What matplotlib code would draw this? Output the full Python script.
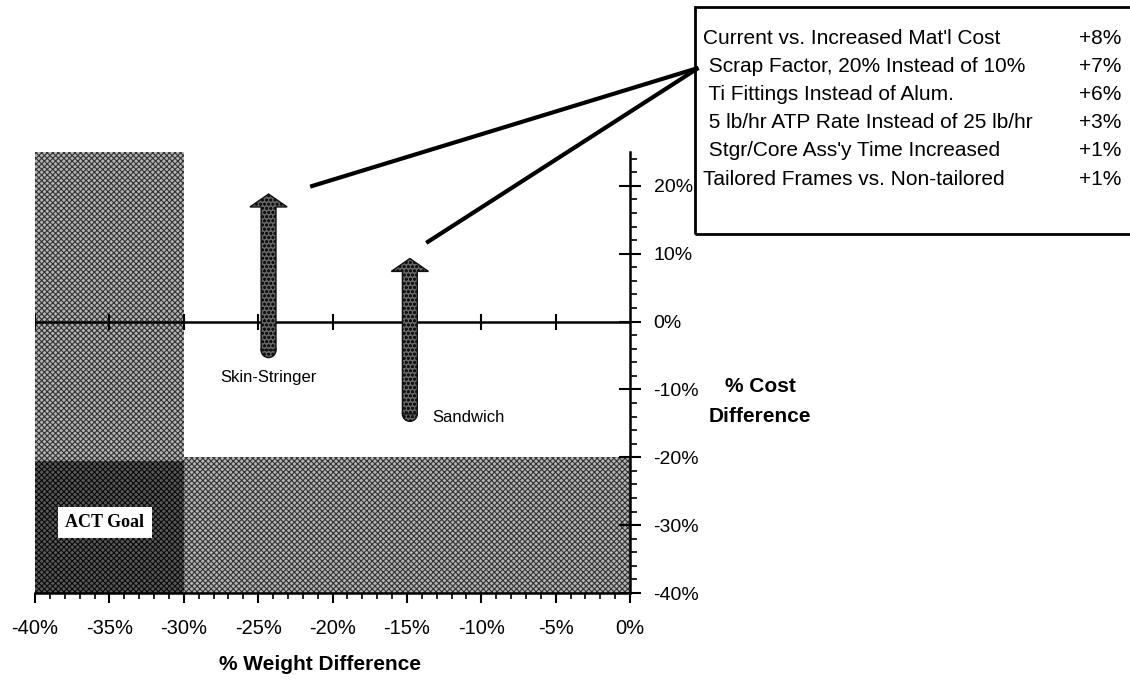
import numpy as np
import matplotlib
matplotlib.use('Agg')
import matplotlib.pyplot as plt
from matplotlib.patches import Rectangle, FancyArrow, Ellipse

plt.rcParams['font.family'] = ['Liberation Sans', 'DejaVu Sans']
plt.rcParams['hatch.linewidth'] = 0.8

# data
weight_ticks = [-40, -35, -30, -25, -20, -15, -10, -5, 0]
cost_ticks = [-40, -30, -20, -10, 0, 10, 20]
concepts = ['Skin-Stringer', 'Sandwich']
concept_weight = [-24.3, -14.8]
cost_low = [-4.9, -14.3]
cost_high = [18.8, 9.3]
goal_weight = [-40, -30]
goal_cost = [-40, -20.5]
factors = ["Current vs. Increased Mat'l Cost",
           " Scrap Factor, 20% Instead of 10%",
           " Ti Fittings Instead of Alum.",
           " 5 lb/hr ATP Rate Instead of 25 lb/hr",
           " Stgr/Core Ass'y Time Increased",
           "Tailored Frames vs. Non-tailored"]
factor_impact = ['+8%', '+7%', '+6%', '+3%', '+1%', '+1%']

W, H = 1130, 681
fig = plt.figure(figsize=(W / 100, H / 100), dpi=100)
ax = fig.add_axes([35 / W, (H - 593) / H, 595 / W, (593 - 152) / H])
ax.set_xlim(-40, 0)
ax.set_ylim(-40, 25)

light = dict(facecolor='#b5b5b5', edgecolor='#333333', hatch='xxxxxx', lw=0, zorder=0)
dark = dict(facecolor='#5a5a5a', edgecolor='#0a0a0a', hatch='xxxxxx', lw=0, zorder=1)
# weight-goal band (left) and cost-goal band (bottom)
ax.add_patch(Rectangle((-40, goal_cost[1]), 10, 25 - goal_cost[1], **light))
ax.add_patch(Rectangle((-30, -40), 30, 20, **light))
ax.add_patch(Rectangle((goal_weight[0], goal_cost[0]), goal_weight[1] - goal_weight[0],
                       goal_cost[1] - goal_cost[0], **dark))
ax.text(-35.3, -29.6, 'ACT Goal', family=['Liberation Serif'], weight='bold', fontsize=13,
        ha='center', va='center', zorder=5,
        bbox=dict(boxstyle='square,pad=0.4', fc='white', ec='none'))

# zero cost line with its ticks
ax.plot([-40, 0], [0, 0], color='black', lw=1.8, zorder=3)
ax.plot(weight_ticks[:-1], [0] * (len(weight_ticks) - 1), ls='none', marker='|',
        ms=12, mew=1.5, color='black', zorder=3)

# spines / axes
for s in ['left', 'top']:
    ax.spines[s].set_visible(False)
for s in ['bottom', 'right']:
    ax.spines[s].set_linewidth(1.8)
    ax.spines[s].set_zorder(4)
ax.yaxis.tick_right()
ax.set_xticks(weight_ticks)
ax.set_xticklabels([f'{t}%' for t in weight_ticks])
ax.set_xticks(np.arange(-40, 1, 1), minor=True)
ax.set_yticks(cost_ticks)
ax.set_yticklabels([f'{t}%' for t in cost_ticks])
ax.set_yticks(np.arange(-40, 25, 2), minor=True)
ax.tick_params(axis='x', which='major', direction='out', length=7, width=1.5, pad=12, labelsize=14.5)
ax.tick_params(axis='x', which='minor', direction='out', length=4, width=1.2)
ax.tick_params(axis='y', which='major', direction='inout', length=16, width=1.5, pad=9, labelsize=14)
ax.tick_params(axis='y', which='minor', direction='out', length=5, width=1.2)

# concept arrows
arrow_style = dict(facecolor='#666666', edgecolor='#111111', hatch='oooo', lw=1.0, zorder=6)
for name, x, lo, hi in zip(concepts, concept_weight, cost_low, cost_high):
    ax.add_patch(Ellipse((x, lo + 0.7), 1.0, 2.2, **arrow_style))
    ax.add_patch(FancyArrow(x, lo + 0.7, 0, hi - lo - 0.7, width=1.0, head_width=2.5,
                            head_length=1.9, length_includes_head=True, **arrow_style))
ax.text(concept_weight[0], -8.3, concepts[0], fontsize=12, ha='center', va='center')
ax.text(-13.3, -14.2, concepts[1], fontsize=12, ha='left', va='center')

# leader lines to the factor box
ax.plot([-21.5, 4.6], [19.9, 37.4], color='black', lw=3, clip_on=False, solid_capstyle='butt')
ax.plot([-13.7, 4.6], [11.6, 37.4], color='black', lw=3, clip_on=False, solid_capstyle='butt')

# factor box
fig.patches.append(Rectangle((695 / W, 1 - 234 / H), 0.5, (234 - 7) / H,
                             transform=fig.transFigure, fill=False, lw=2, ec='black'))
line_y = [38, 67, 95, 123, 151, 179]
for f, v, yy in zip(factors, factor_impact, line_y):
    fig.text(703 / W, 1 - yy / H, f, fontsize=15, ha='left', va='center')
    fig.text(1121 / W, 1 - yy / H, v, fontsize=15, ha='right', va='center')

fig.text(320 / W, 1 - 665 / H, '% Weight Difference', fontsize=15, weight='bold',
         ha='center', va='center')
fig.text(760 / W, 1 - 387 / H, '% Cost', fontsize=15, weight='bold', ha='center', va='center')
fig.text(760 / W, 1 - 417 / H, 'Difference', fontsize=15, weight='bold', ha='center', va='center')

fig.savefig('out.png', dpi=100)
